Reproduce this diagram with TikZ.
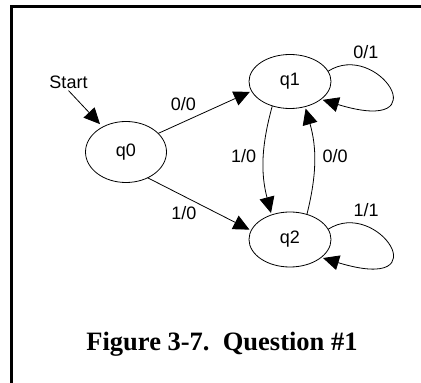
\documentclass[tikz,border=0pt]{standalone}
\usepackage{fontspec}
\setmainfont{Liberation Serif}
\setsansfont{Liberation Sans}
\usetikzlibrary{arrows.meta, shapes.geometric}

\begin{document}
\begin{tikzpicture}[x=1pt, y=1pt,
  state/.style={draw, ellipse, line width=0.8pt, inner sep=0pt, outer sep=0pt,
    minimum width=82pt, minimum height=54pt, font=\sffamily\fontsize{18}{18}\selectfont},
  lbl/.style={inner sep=0pt, font=\sffamily\fontsize{18}{18}\selectfont},
  trans/.style={line width=0.8pt, shorten >=2pt, -{Triangle[length=16pt, width=15pt]}}]
\useasboundingbox (0,0) rectangle (421,383);
% Frame (only top and left edges show)
\draw[line width=3pt] (421,376.5) -- (11.3,376.5) -- (11.3,0);
% States
\node[state, minimum width=81pt, minimum height=61pt] (q0) at (126,231) {q0};
\node[state] (q1) at (290,301.5) {q1};
\node[state, minimum height=55pt] (q2) at (290,143.5) {q2};
\node[lbl, inner sep=2pt] (start) at (68.5,301) {Start};
% Start arrow
\draw[trans, shorten >=4pt] (start.south) -- (q0.133);
% From q0
\draw[trans] (q0.30) -- node[lbl, pos=0.27, yshift=18pt] {0/0} (q1.194);
\draw[trans] (q0.-50) -- node[lbl, pos=0.35, yshift=-17pt] {1/0} (q2.167);
% Between q1 and q2
\draw[trans] (q1.234) to[bend right=15] node[lbl, midway, xshift=-20pt, yshift=4pt] {1/0} (q2.127);
\draw[trans] (q2.56) to[bend right=15] node[lbl, midway, xshift=21pt, yshift=4pt] {0/0} (q1.-59);
% Self loops
\draw[trans] (q1.15) .. controls +(49,32) and +(121,-37) .. node[lbl, pos=0.3, xshift=-5pt, yshift=18pt] {0/1} (q1.-30);
\draw[trans] (q2.15) .. controls +(49,32) and +(121,-37) .. node[lbl, pos=0.3, xshift=-5pt, yshift=18pt] {1/1} (q2.-30);
% Caption
\node[anchor=base, inner sep=0pt, font=\bfseries\fontsize{26.5}{26.5}\selectfont] (caption) at (222,32) {Figure 3-7.\ \ Question \#1};
\end{tikzpicture}
\end{document}
